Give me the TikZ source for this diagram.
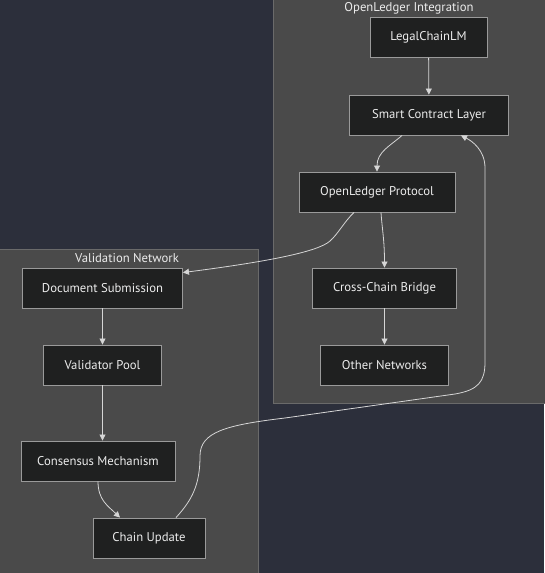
\documentclass[tikz,border=0pt]{standalone}
\usepackage{fontspec}
\setmainfont{PT Sans}
\usetikzlibrary{arrows.meta}
\definecolor{bgc}{HTML}{2C2F3B}
\definecolor{clfill}{HTML}{4A4A4A}
\definecolor{cldraw}{HTML}{6A6A6A}
\definecolor{ndfill}{HTML}{1F2020}
\definecolor{nddraw}{HTML}{9A9A9A}
\definecolor{txt}{HTML}{ECECEC}
\definecolor{edge}{HTML}{D6D6D6}
\tikzset{
  box/.style={draw=nddraw, fill=ndfill, line width=0.9pt, text=txt, minimum height=40pt, inner sep=0pt, font=\fontsize{12.7}{15}\selectfont},
  cluster/.style={draw=cldraw, fill=clfill, line width=0.8pt},
  ctitle/.style={text=txt, font=\fontsize{12.7}{15}\selectfont, inner sep=0pt},
  arr/.style={draw=edge, line width=0.8pt, -{Triangle[length=6pt,width=6pt]}}
}
\begin{document}
\begin{tikzpicture}[x=1pt,y=-1pt]
\fill[bgc] (0,0) rectangle (544,573);
\useasboundingbox (0,0) rectangle (544,573);
% clusters
\path[cluster] (273,-2) rectangle (546,403);
\path[cluster] (-2,249) rectangle (258,575);
\node[ctitle] (t1) at (409,8) {OpenLedger Integration};
\node[ctitle] (t2) at (127,258) {Validation Network};
% nodes
\node[box, minimum width=117pt] (lc) at (428.5,37.5) {LegalChainLM};
\node[box, minimum width=159pt] (scl) at (429,115) {Smart Contract Layer};
\node[box, minimum width=156pt] (olp) at (377,192) {OpenLedger Protocol};
\node[box, minimum width=144pt] (ccb) at (384.5,288) {Cross-Chain Bridge};
\node[box, minimum width=128pt] (on) at (384.5,365) {Other Networks};
\node[box, minimum width=160pt] (ds) at (102.5,288) {Document Submission};
\node[box, minimum width=118pt] (vp) at (102.5,365) {Validator Pool};
\node[box, minimum width=154pt] (cm) at (98,461) {Consensus Mechanism};
\node[box, minimum width=112pt] (cu) at (149,538) {Chain Update};
% edges
\draw[arr] (lc) -- (scl);
\draw[arr] ([xshift=-27pt]scl.south) .. controls (390,146) and (377,152) .. (olp.north);
\draw[arr] ([xshift=-23pt]olp.south) .. controls (344,222) and (338,234) .. (330,241)
  .. controls (318,252) and (265,262) .. ([yshift=-5pt]ds.north east);
\draw[arr] ([xshift=4pt]olp.south) .. controls (382,228) and (384.5,240) .. (ccb.north);
\draw[arr] (ccb) -- (on);
\draw[arr] (ds) -- (vp);
\draw[arr] (vp.south) -- ([xshift=4.5pt]cm.north);
\draw[arr] (cm.south) .. controls (98,500) and (108,506) .. ([xshift=-29pt]cu.north);
\draw[arr] ([xshift=27pt]cu.north) .. controls (192,500) and (200,485) .. (200,456)
  .. controls (200,432) and (226,425) .. (285,418)
  -- (455,394)
  .. controls (478,390) and (485,382) .. (485,362)
  -- (485,168)
  .. controls (485,150) and (472,141) .. ([xshift=32pt]scl.south);
\end{tikzpicture}
\end{document}
